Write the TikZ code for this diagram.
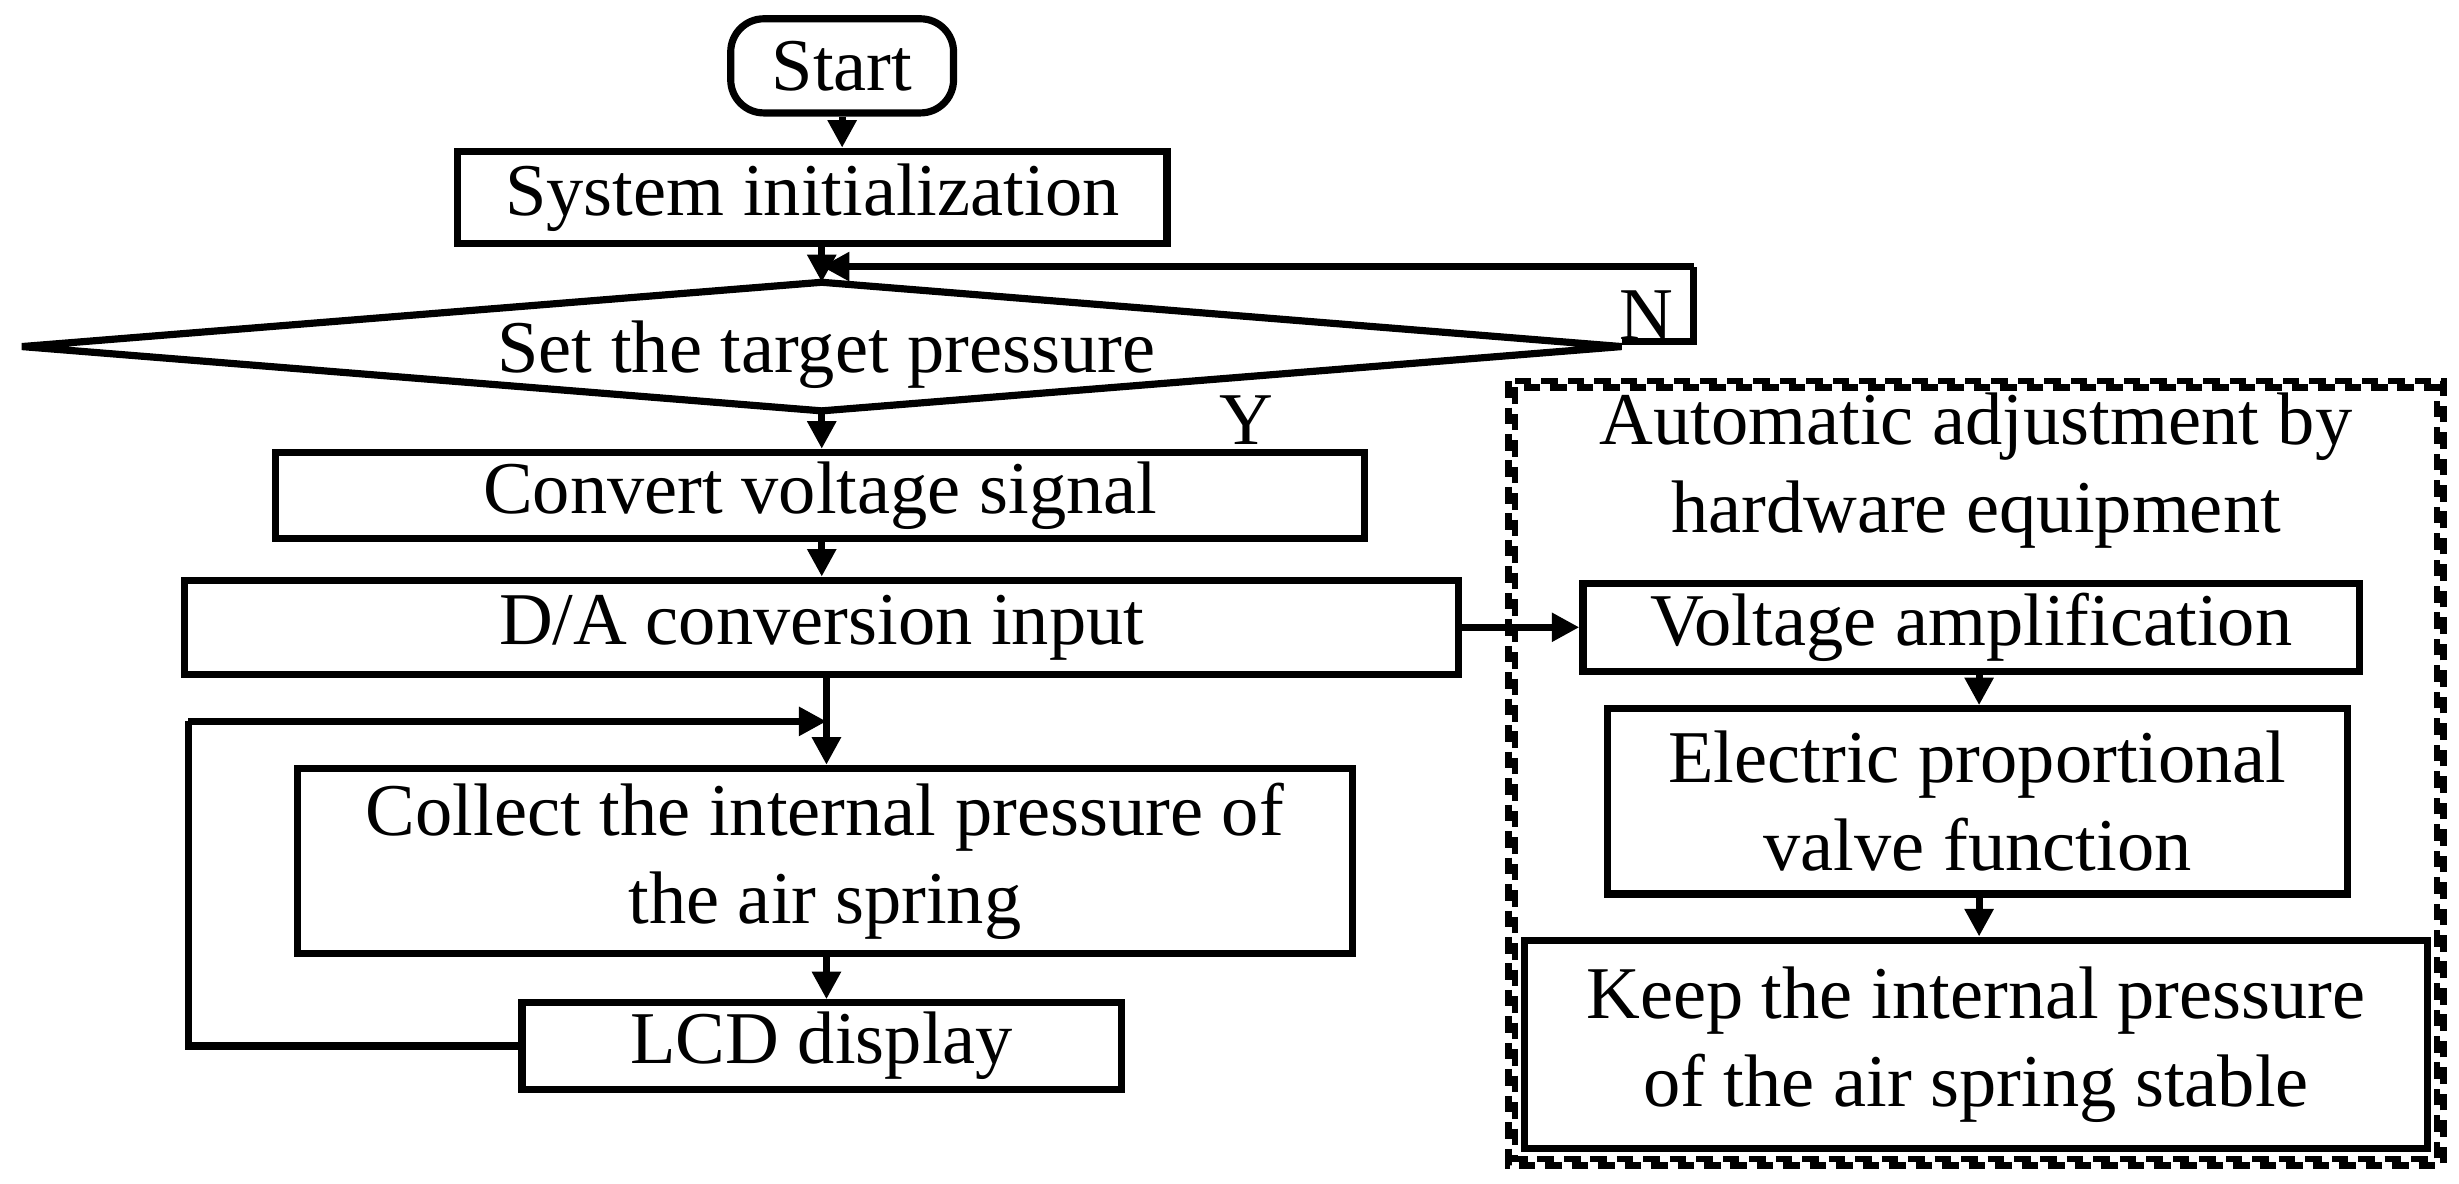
\documentclass[tikz,border=0pt]{standalone}
\usepackage{fontspec}
\setmainfont{Liberation Serif}
\usetikzlibrary{arrows.meta,shapes.geometric}
\begin{document}
\begin{tikzpicture}[x=0.01cm,y=-0.01cm,
  every node/.style={font=\fontsize{13.5}{16}\selectfont},
  box/.style={draw,line width=1.3pt,inner sep=0pt,align=center},
  arr/.style={line width=1.3pt,-{Triangle[length=5pt,width=5pt]}},
  ln/.style={line width=1.3pt},
  dsh/.style={line width=1.2pt,dash pattern=on 3pt off 1.8pt}]
\useasboundingbox (0,0) rectangle (1568,755);
\node[box,rounded corners=6pt] (start) at (537,42) {\parbox[c][0.6cm][c]{1.42cm}{\centering Start}};
\node[box] (init) at (518,126) {\parbox[c][0.59cm][c]{4.52cm}{\centering System initialization}};
\draw[ln] (14,221) -- (524,180) -- (1034,221) -- (524,262) -- cycle;
\coordinate (dtop) at (524,180);
\coordinate (dbot) at (524,262);
\coordinate (dright) at (1034,218);
\node at (527,226) {Set the target pressure};
\node[box] (conv) at (523,316) {\parbox[c][0.55cm][c]{6.94cm}{\centering Convert voltage signal}};
\node[box] (da) at (524,400) {\parbox[c][0.6cm][c]{8.12cm}{\centering D/A conversion input}};
\node[box] (coll) at (526,549) {\parbox[c][1.18cm][c]{6.72cm}{\centering Collect the internal pressure of\\ the air spring}};
\node[box] (lcd) at (524,667) {\parbox[c][0.55cm][c]{3.82cm}{\centering LCD display}};
\draw[dsh] (962,243) rectangle (1558,743);
\draw[dsh] (966,247) rectangle (1554,739);
\node[align=center] at (1260,300) {Automatic adjustment by\\ hardware equipment};
\node[box] (va) at (1257,400) {\parbox[c][0.56cm][c]{4.95cm}{\centering Voltage amplification}};
\node[box] (ep) at (1261,511) {\parbox[c][1.18cm][c]{4.72cm}{\centering Electric proportional\\ valve function}};
\node[box] (keep) at (1260,666) {\parbox[c][1.33cm][c]{5.75cm}{\centering Keep the internal pressure\\ of the air spring stable}};
\draw[arr] (start.south) -- (start.south |- init.north);
\draw[arr] (init.south -| dtop) -- (dtop);
\draw[ln] (dright) -- (1080,218) -- (1080,170);
\draw[arr] (1080,170) -- (524,170);
\node at (1050,201) {N};
\draw[arr] (dbot) -- (dbot |- conv.north);
\node at (795,268) {Y};
\draw[arr] (conv.south -| 524,0) -- (da.north -| 524,0);
\draw[arr] (da.east) -- (va.west);
\draw[arr] (da.south -| 527,0) -- (coll.north -| 527,0);
\draw[arr] (coll.south -| 527,0) -- (lcd.north -| 527,0);
\draw[ln] (lcd.west) -- (120,667) -- (120,460);
\draw[arr] (120,460) -- (527,460);
\draw[arr] (va.south -| 1262,0) -- (ep.north -| 1262,0);
\draw[arr] (ep.south -| 1262,0) -- (keep.north -| 1262,0);
\end{tikzpicture}
\end{document}
